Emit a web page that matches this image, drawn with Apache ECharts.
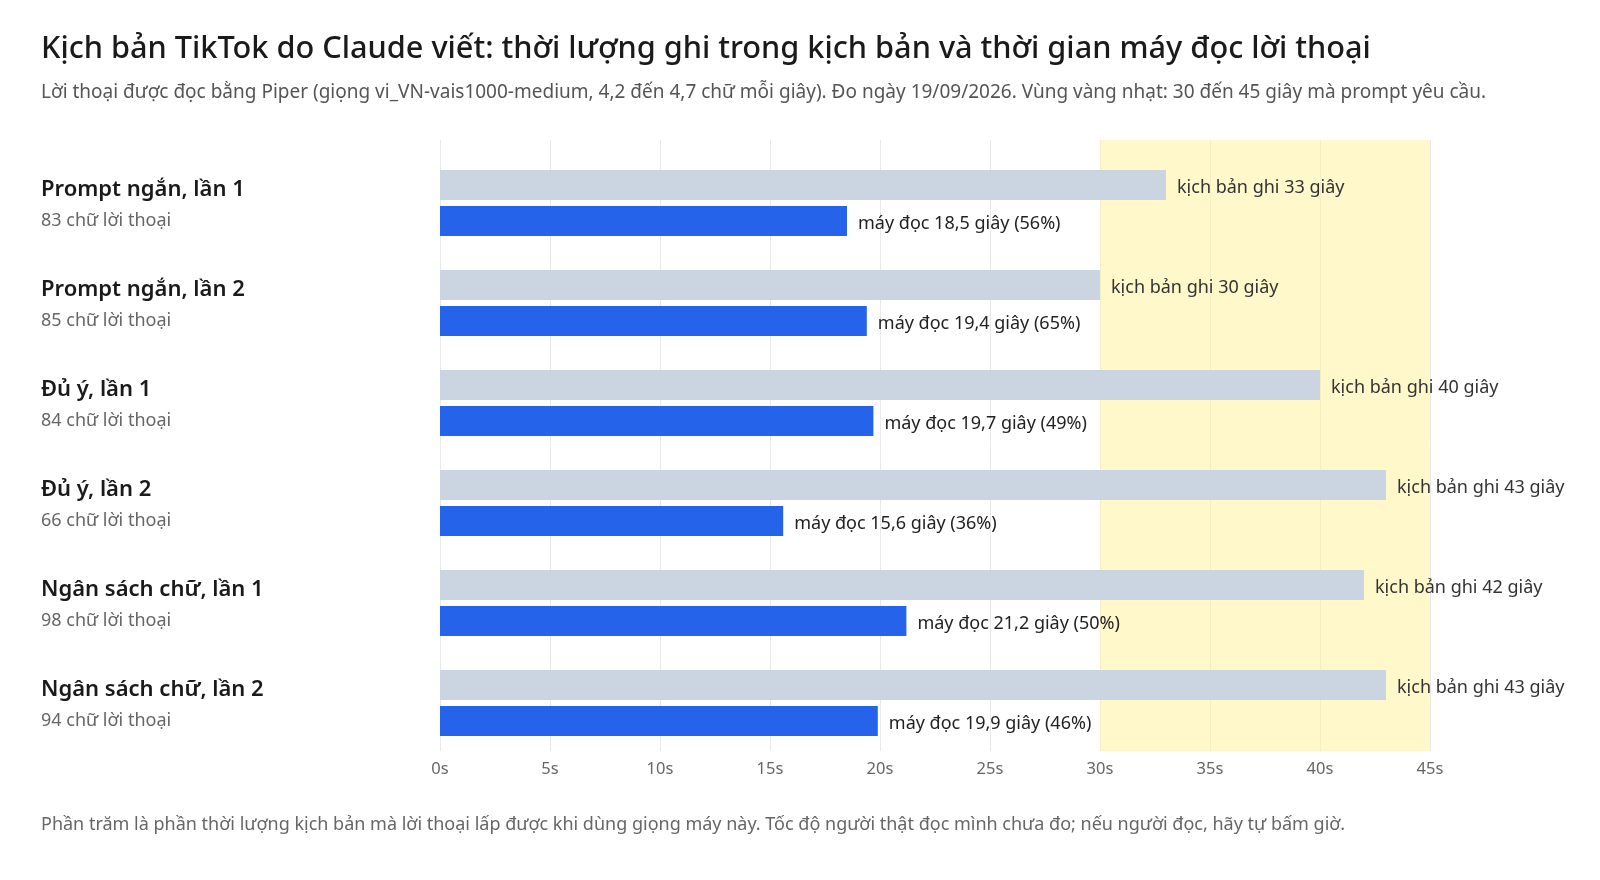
<!DOCTYPE html>
<html>
<head>
<meta charset="utf-8">
<script src="https://cdn.jsdelivr.net/npm/echarts@6/dist/echarts.min.js"></script>
<style>
html,body{margin:0;padding:0;background:#fff;}
#c{width:1600px;height:880px;}
</style>
</head>
<body>
<div id="c"></div>
<script>
const categories = ["Prompt ngắn, lần 1","Prompt ngắn, lần 2","Đủ ý, lần 1","Đủ ý, lần 2","Ngân sách chữ, lần 1","Ngân sách chữ, lần 2"];
const wordCounts = [83,85,84,66,98,94];
const scriptSeconds = [33,30,40,43,42,43];
const machineSeconds = [18.5,19.4,19.7,15.6,21.2,19.9];
const coveragePct = [56,65,49,36,50,46];
const targetRange = [30,45];
const xTicks = [0,5,10,15,20,25,30,35,40,45];

const FONT = '"Noto Sans", "Open Sans", sans-serif';
const fmt = v => String(v).replace('.', ',');

const chart = echarts.init(document.getElementById('c'));
chart.setOption({
  animation:false,
  textStyle:{fontFamily:FONT},
  title:[
    {text:"Kịch bản TikTok do Claude viết: thời lượng ghi trong kịch bản và thời gian máy đọc lời thoại",
     left:36, top:29, textStyle:{fontFamily:FONT,fontSize:30.7,fontWeight:500,color:'#1a1a1a'}},
    {text:"Lời thoại được đọc bằng Piper (giọng vi_VN-vais1000-medium, 4,2 đến 4,7 chữ mỗi giây). Đo ngày 19/09/2026. Vùng vàng nhạt: 30 đến 45 giây mà prompt yêu cầu.",
     left:36, top:78, textStyle:{fontFamily:FONT,fontSize:19,fontWeight:400,color:'#555'}},
    {text:"Phần trăm là phần thời lượng kịch bản mà lời thoại lấp được khi dùng giọng máy này. Tốc độ người thật đọc mình chưa đo; nếu người đọc, hãy tự bấm giờ.",
     left:36, top:811, textStyle:{fontFamily:FONT,fontSize:18,fontWeight:400,color:'#666'}}
  ],
  grid:[
    {left:440, width:990, top:140, height:611},
    {left:440, width:990, top:153, height:600}
  ],
  xAxis:[
    {gridIndex:0, type:'value', min:0, max:45, interval:5,
     axisLine:{show:false}, axisTick:{show:false},
     axisLabel:{formatter:v=>v+'s', color:'#666', fontSize:16.5, margin:10},
     splitLine:{show:true, lineStyle:{color:'#e9e9e9', width:1}}},
    {gridIndex:1, type:'value', min:0, max:45, interval:5, show:false, splitLine:{show:false}}
  ],
  yAxis:[
    {gridIndex:0, type:'value', min:0, max:1, show:false, splitLine:{show:false}},
    {gridIndex:1, type:'category', data:categories, inverse:true,
     axisLine:{show:false}, axisTick:{show:false}, splitLine:{show:false},
     axisLabel:{align:'left', margin:399, padding:[5,0,0,0],
       formatter:(v,i)=>'{n|'+v+'}\n{s|'+wordCounts[i]+' chữ lời thoại}',
       rich:{
         n:{fontFamily:FONT,fontSize:22,fontWeight:600,color:'#1a1a1a',lineHeight:31.5},
         s:{fontFamily:FONT,fontSize:18,color:'#666',lineHeight:31.5}
       }}}
  ],
  series:[
    {type:'line', xAxisIndex:0, yAxisIndex:0, data:[], silent:true,
     markArea:{silent:true, itemStyle:{color:'rgba(254,243,160,0.55)'},
       data:[[{xAxis:targetRange[0], yAxis:0},{xAxis:targetRange[1], yAxis:1}]]}},
    {type:'bar', name:'kịch bản', xAxisIndex:1, yAxisIndex:1, data:scriptSeconds,
     barWidth:30, barGap:'20%', itemStyle:{color:'#cbd5e1'},
     label:{show:true, position:'right', distance:11, offset:[0,2.5], color:'#333', fontSize:18,
       formatter:p=>'kịch bản ghi '+fmt(p.value)+' giây'}},
    {type:'bar', name:'máy đọc', xAxisIndex:1, yAxisIndex:1, data:machineSeconds,
     barWidth:30, barGap:'20%', itemStyle:{color:'#2563eb'},
     label:{show:true, position:'right', distance:11, offset:[0,2.5], color:'#222', fontSize:18,
       formatter:p=>'máy đọc '+fmt(p.value)+' giây ('+coveragePct[p.dataIndex]+'%)'}}
  ]
});
</script>
</body>
</html>
